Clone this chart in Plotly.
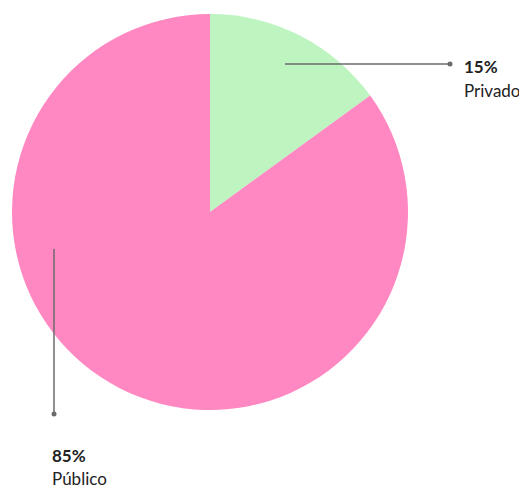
import plotly.graph_objects as go

labels = ["Privado", "Público"]
values = [15, 85]
colors = ["#BDF4C0", "#FF88C2"]

# the page puts the figure 8px in from the top-left corner
OFF = 8
W, H = 527 - OFF, 489 - OFF

def px(x):
    return (x - OFF) / W

def py(y):
    return 1 - (y - OFF) / H

fig = go.Figure(go.Pie(
    labels=labels, values=values, sort=False, direction="clockwise", rotation=0,
    marker=dict(colors=colors, line=dict(width=0)),
    textinfo="none", hoverinfo="label+percent",
    domain=dict(x=[px(12), px(408)], y=[py(410), py(14)]),
))

line_col = "#6b6b6b"
shapes = [
    dict(type="line", xref="paper", yref="paper", x0=px(285), y0=py(64), x1=px(450), y1=py(64),
         line=dict(color=line_col, width=1.5)),
    dict(type="circle", xref="paper", yref="paper", x0=px(447.5), y0=py(61.5), x1=px(452.5), y1=py(66.5),
         fillcolor=line_col, line=dict(width=0)),
    dict(type="line", xref="paper", yref="paper", x0=px(54), y0=py(249), x1=px(54), y1=py(414),
         line=dict(color=line_col, width=1.5)),
    dict(type="circle", xref="paper", yref="paper", x0=px(51.5), y0=py(411.5), x1=px(56.5), y1=py(416.5),
         fillcolor=line_col, line=dict(width=0)),
]

font = "Lato, 'Open Sans', sans-serif"
fs = 17
pct = [f"{v}%" for v in values]
annotations = [
    dict(xref="paper", yref="paper", x=px(462), y=py(66), xanchor="left", yanchor="middle",
         text=f"<b>{pct[0]}</b>", showarrow=False, font=dict(family=font, size=fs, color="#222")),
    dict(xref="paper", yref="paper", x=px(462), y=py(90), xanchor="left", yanchor="middle",
         text=labels[0], showarrow=False, font=dict(family=font, size=fs, color="#222")),
    dict(xref="paper", yref="paper", x=px(50), y=py(455), xanchor="left", yanchor="middle",
         text=f"<b>{pct[1]}</b>", showarrow=False, font=dict(family=font, size=fs, color="#222")),
    dict(xref="paper", yref="paper", x=px(50), y=py(478), xanchor="left", yanchor="middle",
         text=labels[1], showarrow=False, font=dict(family=font, size=fs, color="#222")),
]

fig.update_layout(
    width=W, height=H, margin=dict(l=0, r=0, t=0, b=0),
    paper_bgcolor="white", plot_bgcolor="white", showlegend=False,
    shapes=shapes, annotations=annotations,
)

fig.write_html("out.html")
